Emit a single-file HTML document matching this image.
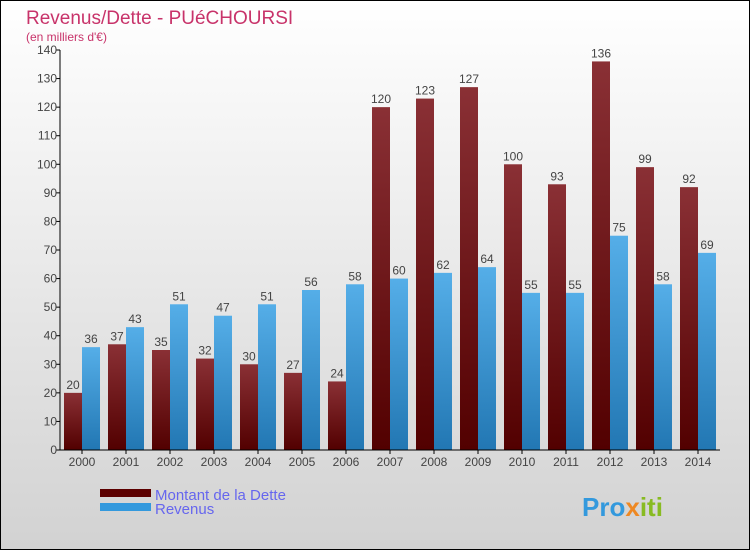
<!DOCTYPE html>
<html><head><meta charset="utf-8"><style>
body{margin:0}
svg{display:block;font-family:"Liberation Sans",sans-serif}
</style></head><body>
<svg id="c" width="750" height="550" xmlns="http://www.w3.org/2000/svg">
<defs>
<linearGradient id="bg" x1="0" y1="0" x2="0" y2="1"><stop offset="0" stop-color="#ffffff"/><stop offset="1" stop-color="#d2d2d2"/></linearGradient>
<linearGradient id="gd" x1="0" y1="0" x2="0" y2="1"><stop offset="0" stop-color="#8a3035"/><stop offset="1" stop-color="#520000"/></linearGradient>
<linearGradient id="gr" x1="0" y1="0" x2="0" y2="1"><stop offset="0" stop-color="#55aee8"/><stop offset="1" stop-color="#2277b3"/></linearGradient>
</defs>
<rect x="0.5" y="0.5" width="749" height="549" fill="url(#bg)" stroke="#000"/>
<text x="26" y="24" font-size="19" fill="#c8336a">Revenus/Dette - PUéCHOURSI</text>
<text x="26" y="41" font-size="12" fill="#c8336a">(en milliers d'€)</text>
<g id="plot"></g>
<rect x="100" y="489" width="51" height="8" fill="#5c0000"/>
<rect x="100" y="503" width="51" height="8" fill="#3399dd"/>
<text x="155" y="500" font-size="15" fill="#6666ee">Montant de la Dette</text>
<text x="155" y="514" font-size="15" fill="#6666ee">Revenus</text>
<text x="582" y="516" font-size="26" font-weight="bold" fill="#3399dd">Pro<tspan fill="#ee8822">x</tspan><tspan fill="#88bb22">iti</tspan></text>
</svg>
<script>
const years=["2000","2001","2002","2003","2004","2005","2006","2007","2008","2009","2010","2011","2012","2013","2014"];
const dette=[20,37,35,32,30,27,24,120,123,127,100,93,136,99,92];
const revenus=[36,43,51,47,51,56,58,60,62,64,55,55,75,58,69];
const ticks=[0,10,20,30,40,50,60,70,80,90,100,110,120,130,140];
const NS="http://www.w3.org/2000/svg";
const g=document.getElementById('plot');
const x0=60,x1=720,yb=450,yt=50,vmax=140;
const y=v=>yb-(v/vmax)*(yb-yt);
const gw=(x1-x0)/years.length;
function mk(t,a,txt){const e=document.createElementNS(NS,t);for(const k in a)e.setAttribute(k,a[k]);if(txt!==undefined)e.textContent=txt;g.appendChild(e);return e;}
ticks.forEach(t=>{
 const l=mk('line',{x1:x0-4,x2:x0,y1:y(t),y2:y(t),stroke:'#000'});
 
 
 const tx=mk('text',{x:x0-3,y:y(t)+4,'font-size':12,fill:'#444','text-anchor':'end'},t);
 
 
});
years.forEach((yr,i)=>{
 const cx=x0+gw*i+gw/2;
 const b1=mk('rect',{x:cx-18,y:y(dette[i]),width:18,height:yb-y(dette[i]),fill:'url(#gd)'});
 
 
 const b2=mk('rect',{x:cx,y:y(revenus[i]),width:18,height:yb-y(revenus[i]),fill:'url(#gr)'});
 
 
 const t1=mk('text',{x:cx-9,y:y(dette[i])-4,'font-size':12,fill:'#444','text-anchor':'middle'},dette[i]);
 
 
 const t2=mk('text',{x:cx+9,y:y(revenus[i])-4,'font-size':12,fill:'#444','text-anchor':'middle'},revenus[i]);
 
 
 const tk=mk('line',{x1:cx,x2:cx,y1:yb,y2:yb+4,stroke:'#000'});
 
 
 const xl=mk('text',{x:cx,y:yb+16,'font-size':12,fill:'#444','text-anchor':'middle'},yr);
 
 
});
const ax=mk('line',{x1:x0,x2:x0,y1:yt,y2:yb,stroke:'#000'});


const bx=mk('line',{x1:x0,x2:x1,y1:yb,y2:yb,stroke:'#000'});


</script>
</body></html>
